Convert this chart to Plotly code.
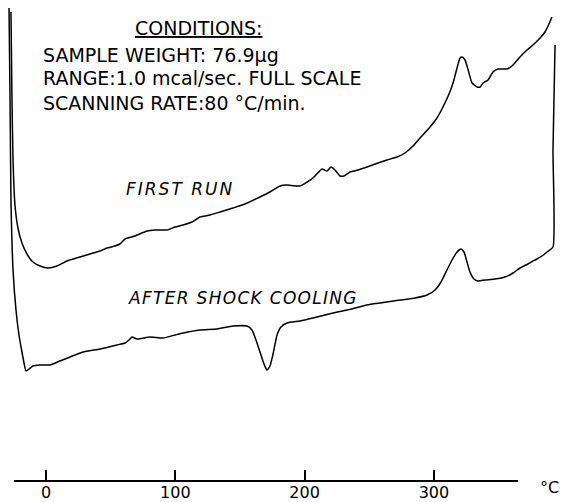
import plotly.graph_objects as go

# DSC traces: temperature (deg C) vs. differential heat flow (arbitrary chart units)
first_run_temp = [-27.1, -26.3, -25.5, -24.0, -21.7, -18.6, -14.7, -10.1, -4.6, 1.5, 8.5, 16.2,
                  26.3, 34.0, 41.8, 47.2, 53.4, 57.2, 61.1, 68.8, 78.1, 84.3, 93.6, 99.8, 106.0,
                  112.9, 119.1, 126.8, 134.6, 144.6, 153.9, 165.5, 173.2, 180.9, 186.4, 196.4,
                  206.5, 213.5, 217.3, 220.4, 223.5, 227.4, 230.5, 235.1, 241.3, 248.3, 256.8,
                  263.7, 271.5, 277.6, 283.8, 289.3, 297.0, 302.4, 307.0, 311.7, 314.8, 317.9,
                  320.2, 321.8, 324.1, 326.5, 329.5, 333.4, 335.7, 338.0, 341.9, 345.7, 349.6,
                  356.5, 360.4, 366.6, 372.0, 376.6, 382.1, 385.9, 389.0, 391.3]
first_run_flow = [46.9, 38.1, 32.1, 27.6, 25.3, 23.8, 22.7, 21.9, 21.5, 21.3, 21.5, 22.0,
                  22.4, 22.7, 23.0, 23.3, 23.5, 23.7, 24.2, 24.5, 25.0, 25.1, 25.1, 25.4, 25.6,
                  25.9, 26.4, 26.6, 26.9, 27.3, 27.7, 28.4, 28.9, 29.5, 29.6, 29.5,
                  30.3, 31.2, 31.0, 31.4, 31.1, 30.5, 30.5, 30.9, 31.1, 31.4, 31.8,
                  32.1, 32.4, 32.8, 33.5, 34.3, 35.4, 36.3, 37.4, 38.7, 39.8, 41.3,
                  42.3, 42.4, 42.1, 41.1, 39.8, 39.4, 39.4, 39.8, 40.1, 40.9, 41.2,
                  41.2, 41.5, 42.4, 43.1, 43.6, 44.3, 44.9, 45.7, 46.4]

shock_temp = [-28.6, -27.8, -27.1, -25.5, -23.2, -20.9, -18.6, -17.0, -15.5, -13.1, -10.1, -4.6,
              3.1, 10.8, 18.6, 28.6, 41.8, 54.9, 61.1, 64.2, 66.5, 70.4, 80.4, 90.5, 99.8,
              106.0, 119.1, 132.3, 144.6, 155.5, 159.3, 162.4, 165.5, 168.6, 170.9, 173.2,
              175.6, 178.7, 181.7, 186.4, 196.4, 206.5, 222.0, 232.8, 248.3, 258.3, 273.8,
              285.4, 294.7, 300.9, 305.5, 310.1, 314.0, 317.9, 321.0, 323.3, 325.6, 327.9,
              331.0, 334.1, 339.5, 347.3, 355.0, 361.2, 366.6, 372.8, 378.2, 383.6, 387.5,
              392.1, 392.1, 393.7]
shock_flow = [47.3, 38.1, 28.1, 21.1, 17.1, 14.6, 12.9, 11.8, 11.0, 11.2, 11.5, 11.6,
              11.6, 12.0, 12.4, 12.9, 13.2, 13.6, 13.8, 14.1, 14.4, 14.2, 14.4, 14.3, 14.6,
              14.8, 15.1, 15.2, 15.5, 15.5, 15.1, 14.1, 12.9, 11.7, 11.1, 11.5,
              12.7, 14.6, 15.4, 15.8, 16.0, 16.3, 16.8, 17.1, 17.6, 17.8, 18.1,
              18.3, 18.6, 19.1, 19.9, 21.1, 22.1, 22.9, 23.2, 22.9, 21.9, 20.9,
              20.2, 20.0, 20.1, 20.2, 20.4, 20.8, 21.3, 21.7, 22.1, 22.5, 22.9,
              23.4, 33.1, 43.6]

tick_values = [0, 100, 200, 300]
tick_labels = ["0", "100", "200", "300"]

W, H = 562, 502
PLOT_BOTTOM = 481          # pixel row of the temperature baseline
PX_PER_DEG = 1.293
X0_PX = 46                 # pixel column of 0 deg C


def t_at(px):
    return (px - X0_PX) / PX_PER_DEG


def px_paper(px):
    return px / W


def py_paper(py):
    return (PLOT_BOTTOM - py) / PLOT_BOTTOM


FONT = "DejaVu Sans"
line_style = dict(color="black", width=1.5, shape="spline", smoothing=0.5)

fig = go.Figure()
fig.add_trace(go.Scatter(x=first_run_temp, y=first_run_flow, mode="lines",
                         line=line_style, hoverinfo="skip"))
fig.add_trace(go.Scatter(x=shock_temp, y=shock_flow, mode="lines",
                         line=line_style, hoverinfo="skip"))

# temperature baseline
fig.add_shape(type="line", xref="x", yref="paper",
              x0=t_at(14), x1=t_at(518), y0=0, y1=0,
              line=dict(color="black", width=2))

ann = []


def label(text, px, py, size=19, xanchor="left", italic=False, under=False, spacing=None):
    if spacing is not None:
        text = '<span style="letter-spacing:%spx">%s</span>' % (spacing, text)
    ann.append(dict(
        text=text, x=px_paper(px), y=py_paper(py), xref="paper", yref="paper",
        xanchor=xanchor, yanchor="middle", showarrow=False,
        font=dict(family=FONT, size=size, color="black",
                  style="italic" if italic else "normal",
                  lineposition="under" if under else "none"),
    ))


label("CONDITIONS:", 199, 28, xanchor="center", under=True)
label("SAMPLE WEIGHT: 76.9μg", 41, 55)
label("RANGE:1.0 mcal/sec. FULL SCALE", 41, 78)
label("SCANNING RATE:80 °C/min.", 41, 103)
label("FIRST RUN", 124, 189, size=17, italic=True, spacing=2)
label("AFTER SHOCK COOLING", 126, 298, size=17, italic=True, spacing=1.3)
label("°C", 549, 487, size=16, xanchor="center")

fig.update_layout(
    width=W, height=H,
    margin=dict(l=0, r=0, t=0, b=H - PLOT_BOTTOM, pad=0),
    paper_bgcolor="white", plot_bgcolor="white",
    showlegend=False,
    annotations=ann,
    xaxis=dict(range=[t_at(0), t_at(W)], tickvals=tick_values, ticktext=tick_labels,
               ticks="inside", ticklen=11, tickwidth=1.5, tickcolor="black",
               showgrid=False, zeroline=False, showline=False,
               tickfont=dict(family=FONT, size=16, color="black")),
    yaxis=dict(range=[0, PLOT_BOTTOM / 10], visible=False, showgrid=False,
               zeroline=False),
)

fig.write_html("out.html")
